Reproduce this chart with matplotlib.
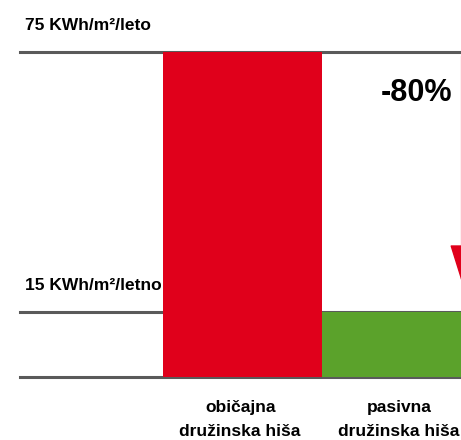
import matplotlib.pyplot as plt

plt.rcParams['font.family'] = ['Liberation Sans', 'DejaVu Sans']

categories = ["običajna\ndružinska hiša", "pasivna\ndružinska hiša"]
values = [75, 15]
colors = ["#E0001B", "#5BA22B"]
levels = [75, 15, 0]
level_labels = ["75 KWh/m²/leto", "15 KWh/m²/letno"]
reduction = "-80%"

fig = plt.figure(figsize=(4.61, 4.40), dpi=100)
ax = fig.add_axes([20 / 461, 63 / 440, 441 / 461, 325 / 440])
ax.set_xlim(-1.40, 1.374)
ax.set_ylim(0, 75)
ax.axis('off')

for lv in levels:
    ax.axhline(lv, color="#5a5a5a", linewidth=2.2, zorder=1, clip_on=False)

ax.bar(range(len(values)), values, width=1.0, color=colors, zorder=2)

ax.text(-1.37, 75 + 6.0, level_labels[0], fontsize=12.5, fontweight='bold', va='center', ha='left')
ax.text(-1.37, 15 + 6.2, level_labels[1], fontsize=12.5, fontweight='bold', va='center', ha='left')

for i, c in enumerate(categories):
    ax.text(i - 0.015, -5.2, c, fontsize=12.5, fontweight='bold', ha='center', va='top',
            linespacing=1.75, clip_on=False)

ax.text(1.095, 65.5, reduction, fontsize=22, fontweight='bold', ha='center', va='center')

ax.annotate("", xy=(1.378, 22), xytext=(1.378, 74),
            arrowprops=dict(arrowstyle='-|>,head_length=0.8,head_width=0.25', color="#E0001B",
                            lw=1.0, mutation_scale=30, shrinkA=0, shrinkB=0),
            annotation_clip=False)

fig.savefig("out.png", dpi=100)
